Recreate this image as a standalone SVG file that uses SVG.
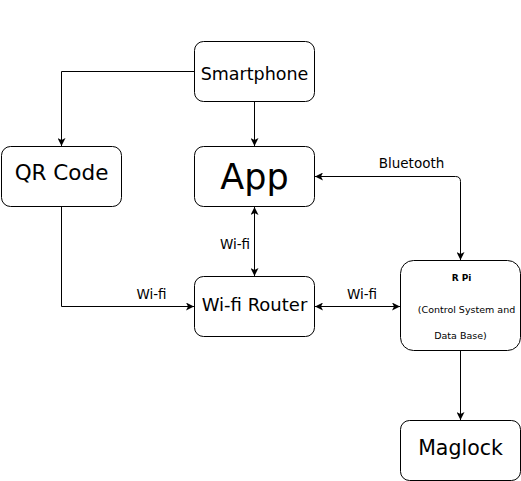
<svg xmlns="http://www.w3.org/2000/svg" width="521" height="481" viewBox="0 0 521 481">
<style>
  .box { fill: #ffffff; stroke: #000000; stroke-width: 1; }
  .lbl { font-family: "DejaVu Sans", "Liberation Sans", sans-serif; fill: #000000; text-anchor: middle; }
  .edge { fill: none; stroke: #000000; stroke-width: 1; }
  .elbl { font-family: "DejaVu Sans", "Liberation Sans", sans-serif; font-size: 13.5px; fill: #000000; text-anchor: middle; }
</style>
<defs>
  <marker id="arr" viewBox="0 0 8 8" refX="8" refY="4" markerWidth="8" markerHeight="8" markerUnits="userSpaceOnUse" orient="auto-start-reverse">
    <path d="M0,0 L8,4 L0,8 L2,4 Z" fill="#000000"/>
  </marker>
</defs>
<rect width="521" height="481" fill="#ffffff"/>
<g id="connectors">
  <path class="edge" d="M194.5,71.5 H61.5 V146" marker-end="url(#arr)"/>
  <path class="edge" d="M254.5,101.5 V146" marker-end="url(#arr)"/>
  <path class="edge" d="M61.5,206.5 V306.5 H194" marker-end="url(#arr)"/>
  <text class="elbl" x="151.5" y="299">Wi-fi</text>
  <path class="edge" d="M254.5,207 V276" marker-start="url(#arr)" marker-end="url(#arr)"/>
  <text class="elbl" x="235" y="249">Wi-fi</text>
  <path class="edge" d="M315,306.5 H400" marker-start="url(#arr)" marker-end="url(#arr)"/>
  <text class="elbl" x="362" y="299">Wi-fi</text>
  <path class="edge" d="M315,176.5 H455.5 Q460.5,176.5 460.5,181.5 V260" marker-start="url(#arr)" marker-end="url(#arr)"/>
  <text class="elbl" x="411.5" y="168">Bluetooth</text>
  <path class="edge" d="M460.5,350.5 V420" marker-end="url(#arr)"/>
</g>
<g id="smartphone">
  <rect class="box" x="194.5" y="41.5" width="120" height="60" rx="9" ry="9"/>
  <text class="lbl" x="254.5" y="80" font-size="17.5px">Smartphone</text>
</g>
<g id="qrcode">
  <rect class="box" x="1.5" y="146.5" width="120" height="60" rx="9" ry="9"/>
  <text class="lbl" x="61.5" y="180" font-size="21.5px">QR Code</text>
</g>
<g id="app">
  <rect class="box" x="194.5" y="146.5" width="120" height="60" rx="9" ry="9"/>
  <text class="lbl" x="254.5" y="188.5" font-size="35px">App</text>
</g>
<g id="router">
  <rect class="box" x="194.5" y="276.5" width="120" height="60" rx="9" ry="9"/>
  <text class="lbl" x="254.5" y="311" font-size="18px">Wi-fi Router</text>
</g>
<g id="rpi">
  <rect class="box" x="400.5" y="260.5" width="120" height="90" rx="13" ry="13"/>
  <text class="lbl" x="461.5" y="281" font-size="9px" font-weight="bold">R Pi</text>
  <text class="lbl" x="466.5" y="313" font-size="9.5px">(Control System and</text>
  <text class="lbl" x="460.5" y="339" font-size="9.5px">Data Base)</text>
</g>
<g id="maglock">
  <rect class="box" x="400.5" y="420.5" width="120" height="60" rx="9" ry="9"/>
  <text class="lbl" x="460.5" y="455" font-size="20.5px">Maglock</text>
</g>
</svg>
